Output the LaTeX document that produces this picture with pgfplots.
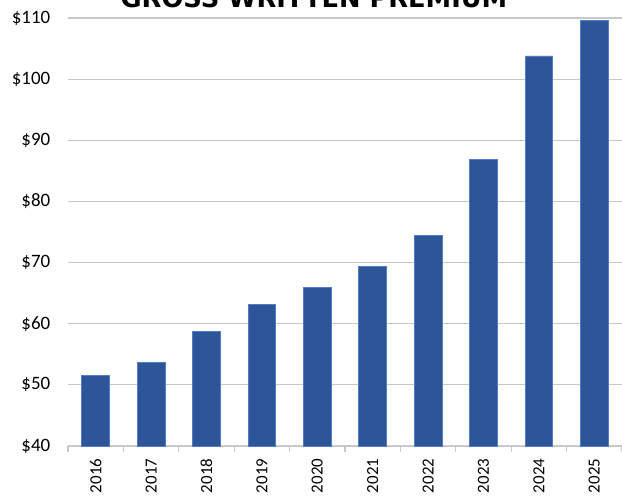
\documentclass[border=0pt]{standalone}
\usepackage{pgfplots}
\pgfplotsset{compat=1.18}
\usepackage{fontspec}
\setmainfont{Carlito}
\newfontfamily\titlefont{DejaVu Sans}
\definecolor{barblue}{RGB}{46,85,151}
\definecolor{baredge}{RGB}{80,125,195}
\definecolor{gridgray}{RGB}{200,200,200}

\begin{document}
\begin{tikzpicture}[x=1bp,y=1bp]
\begin{axis}[
    name=ax,
    scale only axis,
    width=554bp,
    height=428bp,
    ybar,
    bar width=0.5,
    xmin=-0.5, xmax=9.5,
    ymin=40, ymax=110,
    xtick=data,
    xticklabels={2016,2017,2018,2019,2020,2021,2022,2023,2024,2025},
    major x tick style={draw=none},
    minor xtick={-0.5,0.5,...,9.5},
    minor x tick style={gridgray, line width=1.2bp},
    minor tick length=6bp,
    tick align=outside,
    x tick label style={rotate=90, anchor=east, font=\fontsize{17}{20}\selectfont, xshift=-5bp},
    ytick={40,50,...,110},
    yticklabel={\$\pgfmathprintnumber{\tick}},
    y tick label style={font=\fontsize{19}{22}\selectfont, xshift=-10bp},
    /pgf/number format/assume math mode=true,
    ytick style={draw=none},
    ymajorgrids,
    grid style={gridgray, line width=1.2bp},
    axis x line*=bottom,
    axis y line*=left,
    x axis line style={gridgray, line width=1.2bp},
    y axis line style={draw=none},
    clip=false,
]
\addplot[fill=barblue, draw=baredge, line width=0.8bp] coordinates {
    (0, 51.6)
    (1, 53.7)
    (2, 58.8)
    (3, 63.2)
    (4, 65.9)
    (5, 69.3)
    (6, 74.4)
    (7, 86.8)
    (8, 103.8)
    (9, 109.6)
};
\end{axis}
\node[overlay, anchor=base, font=\titlefont\bfseries\fontsize{25.8}{30}\selectfont, inner sep=0pt]
    at ([xshift=-68bp+314bp, yshift=18bp-8bp]ax.north west) {GROSS WRITTEN PREMIUM};
\pgfresetboundingbox
\path[use as bounding box] ([xshift=-68bp, yshift=-51bp]ax.south west) rectangle ([yshift=18bp]ax.north east);
\end{tikzpicture}
\end{document}
